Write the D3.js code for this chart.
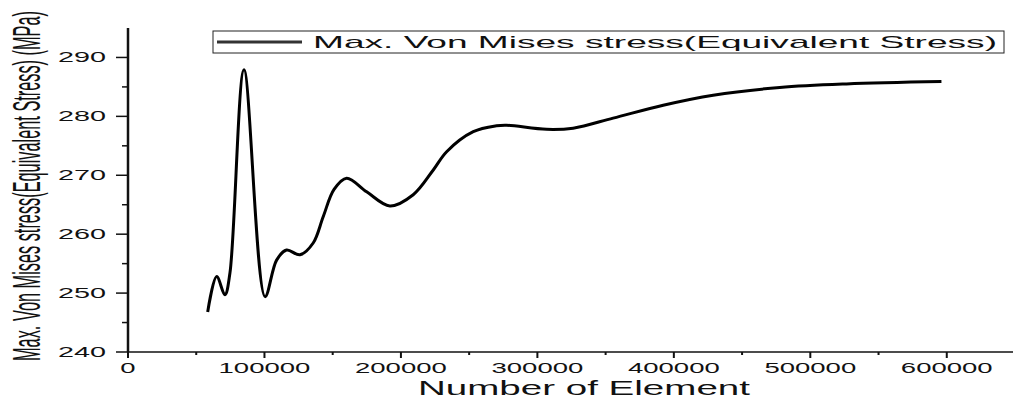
<!DOCTYPE html>
<html>
<head>
<meta charset="utf-8">
<script src="https://cdn.jsdelivr.net/npm/d3@7"></script>
<style>
  body { margin: 0; background: #fff; }
  text { font-family: "Liberation Sans", Arial, sans-serif; fill: #111; }
</style>
</head>
<body>
<div id="chart"></div>
<script>
// element counts
const elements = [58400, 65000, 71000, 74700, 85000, 100400, 108900, 116200, 126000, 135700,
    143100, 151000, 160200, 174900, 191900, 209000, 223700, 233500, 253000, 270000,
    277400, 306700, 326200, 355500, 392200, 428800, 477600, 526500, 596100];
// max von mises stress (MPa)
const stress = [246.8, 252.8, 249.7, 253.4, 287.9, 249.4, 255.6, 257.3, 256.5, 258.5,
    263.0, 267.6, 269.5, 267.2, 264.8, 266.7, 270.9, 274.0, 277.4, 278.4,
    278.5, 277.8, 278.0, 279.7, 281.9, 283.6, 284.9, 285.5, 285.9];
const xTicks = [0, 100000, 200000, 300000, 400000, 500000, 600000];
const yTicks = [240, 250, 260, 270, 280, 290];
const seriesName = "Max. Von Mises stress(Equivalent Stress)";
const xTitle = "Number of Element";
const yTitle = "Max. Von Mises stress(Equivalent Stress) (MPa)";

const width = 1013, height = 407;
const svg = d3.select("#chart").append("svg")
    .attr("width", width)
    .attr("height", height);

const x = d3.scaleLinear().domain([0, 650000]).range([128, 1015]);
const y = d3.scaleLinear().domain([240, 295]).range([352, 28]);

// minor ticks
const xMinor = d3.range(50000, 650000, 100000);
const yMinor = d3.range(245, 295, 10);

const xAxis = svg.append("g").attr("transform", `translate(0,${y(240)})`);
xAxis.append("line").attr("x1", x(0)).attr("x2", x(650000)).attr("stroke", "#111").attr("stroke-width", 1.5);
xAxis.selectAll(".maj").data(xTicks).enter().append("line")
    .attr("x1", d => x(d)).attr("x2", d => x(d)).attr("y1", 0).attr("y2", 6)
    .attr("stroke", "#111").attr("stroke-width", 2);
xAxis.selectAll(".min").data(xMinor).enter().append("line")
    .attr("x1", d => x(d)).attr("x2", d => x(d)).attr("y1", 0).attr("y2", 3)
    .attr("stroke", "#111").attr("stroke-width", 2);
xAxis.selectAll("text").data(xTicks).enter().append("text")
    .attr("x", d => x(d)).attr("y", 21)
    .attr("text-anchor", "middle")
    .attr("font-size", 14)
    .attr("textLength", d => String(d).length * 15.3)
    .attr("lengthAdjust", "spacingAndGlyphs")
    .text(d => d);

const yAxis = svg.append("g").attr("transform", `translate(${x(0)},0)`);
yAxis.append("line").attr("y1", y(240)).attr("y2", y(295)).attr("stroke", "#111").attr("stroke-width", 2.5);
yAxis.selectAll(".maj").data(yTicks).enter().append("line")
    .attr("y1", d => y(d)).attr("y2", d => y(d)).attr("x1", -12).attr("x2", 0)
    .attr("stroke", "#111").attr("stroke-width", 1.5);
yAxis.selectAll(".min").data(yMinor).enter().append("line")
    .attr("y1", d => y(d)).attr("y2", d => y(d)).attr("x1", -6).attr("x2", 0)
    .attr("stroke", "#111").attr("stroke-width", 1.5);
yAxis.selectAll("text").data(yTicks).enter().append("text")
    .attr("x", -22).attr("y", d => y(d) + 5)
    .attr("text-anchor", "end")
    .attr("font-size", 14)
    .attr("textLength", 48)
    .attr("lengthAdjust", "spacingAndGlyphs")
    .text(d => d);

// titles
svg.append("text")
    .attr("x", 418).attr("y", 395)
    .attr("font-size", 21)
    .attr("textLength", 332)
    .attr("lengthAdjust", "spacingAndGlyphs")
    .text(xTitle);

svg.append("text")
    .attr("transform", "translate(40,186) scale(2.4,1) rotate(-90)")
    .attr("text-anchor", "middle")
    .attr("font-size", 16)
    .attr("textLength", 350)
    .attr("lengthAdjust", "spacingAndGlyphs")
    .text(yTitle);

// curve
const pts = elements.map((e, i) => [e, stress[i]]);
const line = d3.line()
    .x(d => x(d[0]))
    .y(d => y(d[1]))
    .curve(d3.curveCatmullRom.alpha(0.5));
svg.append("path")
    .datum(pts)
    .attr("d", line)
    .attr("fill", "none")
    .attr("stroke", "#000")
    .attr("stroke-width", 3)
    .attr("stroke-linejoin", "round");

// legend
const lg = svg.append("g");
lg.append("rect").attr("x", 213).attr("y", 31).attr("width", 791).attr("height", 22)
    .attr("fill", "#fff").attr("stroke", "#222").attr("stroke-width", 1);
lg.append("line").attr("x1", 217).attr("x2", 302).attr("y1", 42).attr("y2", 42)
    .attr("stroke", "#333").attr("stroke-width", 3);
lg.append("text").attr("x", 313).attr("y", 48)
    .attr("font-size", 17)
    .attr("textLength", 684)
    .attr("lengthAdjust", "spacingAndGlyphs")
    .text(seriesName);
</script>
</body>
</html>
